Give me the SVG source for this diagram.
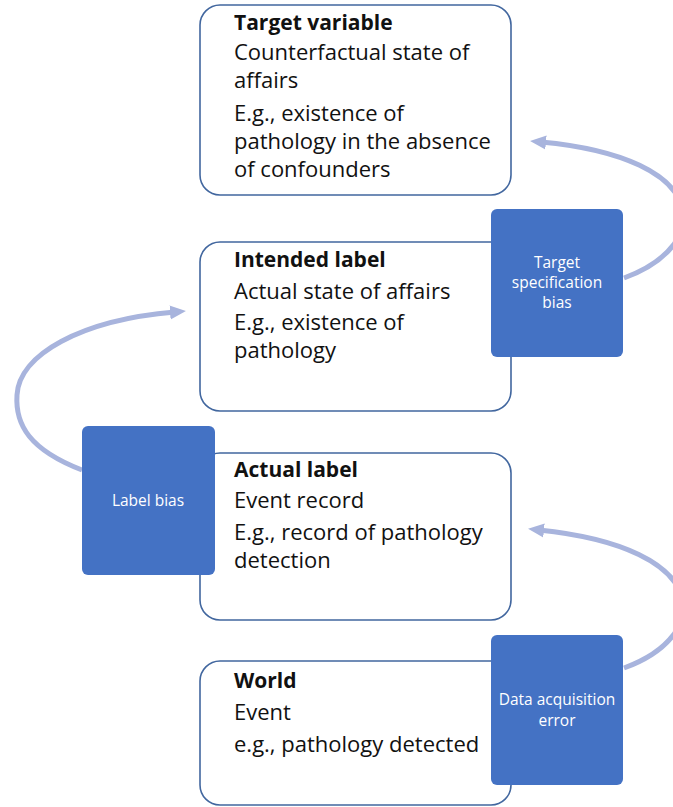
<svg xmlns="http://www.w3.org/2000/svg" width="673" height="807" viewBox="0 0 673 807">
  <style>
    .box { fill: #ffffff; stroke: #42679f; stroke-width: 1.6; }
    .bias { fill: #4472c4; }
    .t { font-family: "Open Sans", "Liberation Sans", sans-serif; font-size: 22px; fill: #111111; }
    .h { font-family: "Open Sans", "Liberation Sans", sans-serif; font-size: 21px; font-weight: bold; fill: #111111; }
    .w { font-family: "Open Sans", "Liberation Sans", sans-serif; font-size: 15.5px; fill: #ffffff; text-anchor: middle; }
    .arc { fill: none; stroke: #a8b4dd; stroke-width: 5; }
  </style>
  <defs>
    <marker id="ah" markerUnits="userSpaceOnUse" markerWidth="18" markerHeight="16" refX="5" refY="8" orient="auto">
      <path d="M0,1 L16,8 L0,15 Z" fill="#a8b4dd"/>
    </marker>
  </defs>
  <rect width="673" height="807" fill="#ffffff"/>

  <g id="connectors">
    <path class="arc" d="M 624 278 C 714 245, 714 158, 541 142" marker-end="url(#ah)"/>
    <path class="arc" d="M 82 470 C 30 450, 15 425, 17 395 C 19 355, 80 320, 175 312" marker-end="url(#ah)"/>
    <path class="arc" d="M 624 668 C 714 635, 714 548, 539 530" marker-end="url(#ah)"/>
  </g>

  <g id="target-variable">
    <rect class="box" x="200" y="5" width="311" height="190" rx="20"/>
    <text class="h" x="234" y="30">Target variable</text>
    <text class="t" x="234" y="60">Counterfactual state of</text>
    <text class="t" x="234" y="88">affairs</text>
    <text class="t" x="234" y="121">E.g., existence of</text>
    <text class="t" x="234" y="149">pathology in the absence</text>
    <text class="t" x="234" y="177">of confounders</text>
  </g>

  <g id="intended-label">
    <rect class="box" x="200" y="242" width="311" height="169" rx="20"/>
    <text class="h" x="234" y="267">Intended label</text>
    <text class="t" x="234" y="299">Actual state of affairs</text>
    <text class="t" x="234" y="330">E.g., existence of</text>
    <text class="t" x="234" y="358">pathology</text>
  </g>

  <g id="actual-label">
    <rect class="box" x="200" y="453" width="311" height="167" rx="20"/>
    <text class="h" x="234" y="477">Actual label</text>
    <text class="t" x="234" y="508">Event record</text>
    <text class="t" x="234" y="540">E.g., record of pathology</text>
    <text class="t" x="234" y="568">detection</text>
  </g>

  <g id="world">
    <rect class="box" x="200" y="661" width="311" height="144" rx="20"/>
    <text class="h" x="234" y="688">World</text>
    <text class="t" x="234" y="720">Event</text>
    <text class="t" x="234" y="752">e.g., pathology detected</text>
  </g>

  <g id="target-specification-bias">
    <rect class="bias" x="491" y="209" width="132" height="148" rx="6"/>
    <text class="w" x="557" y="268">Target</text>
    <text class="w" x="557" y="288">specification</text>
    <text class="w" x="557" y="308">bias</text>
  </g>

  <g id="label-bias">
    <rect class="bias" x="82" y="426" width="133" height="149" rx="6"/>
    <text class="w" x="148" y="506">Label bias</text>
  </g>

  <g id="data-acquisition-error">
    <rect class="bias" x="491" y="635" width="132" height="150" rx="6"/>
    <text class="w" x="557" y="705">Data acquisition</text>
    <text class="w" x="557" y="726">error</text>
  </g>
</svg>
